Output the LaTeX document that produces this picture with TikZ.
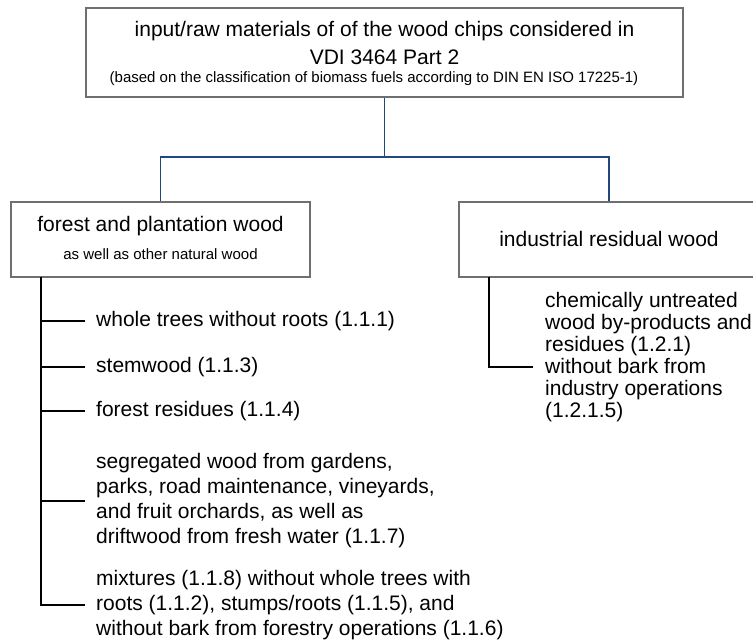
\documentclass[tikz,border=0pt]{standalone}
\usepackage{fontspec}
\setmainfont{Liberation Sans}
\definecolor{conblue}{HTML}{1F497D}
\definecolor{boxgray}{HTML}{6F6F6F}
\begin{document}
\begin{tikzpicture}[x=1pt,y=-1pt,
  box/.style={draw=boxgray, line width=1.3pt, fill=white, inner sep=0pt},
  big/.style={font=\fontsize{21}{25}\selectfont, inner sep=0pt},
  small/.style={font=\fontsize{15}{18}\selectfont, inner sep=0pt},
  item/.style={font=\fontsize{21}{25}\selectfont, align=left, anchor=west, inner xsep=11pt, inner ysep=0pt},
  ritem/.style={font=\fontsize{21}{22}\selectfont, align=left, anchor=west, inner sep=0pt},
  blueline/.style={draw=conblue, line width=1.3pt},
  branch/.style={draw=black, line width=1.2pt}]
\useasboundingbox (0,0) rectangle (753,644);
\clip (0,0) rectangle (753,644);
\fill[white] (0,0) rectangle (753,644);
% boxes
\node[box, minimum width=597pt, minimum height=89pt] (top) at (384.5,52.5) {};
\node[box, minimum width=299pt, minimum height=75pt] (lbox) at (160.5,239.5) {};
\node[box, minimum width=300pt, minimum height=75pt] (rbox) at (609,239.5) {};
% box texts
\node[big] (t1) at (384.5,31) {input/raw materials of of the wood chips considered in};
\node[big] (t2) at (384.5,57) {VDI 3464 Part 2};
\node[small] (t3) at (374,79) {(based on the classification of biomass fuels according to DIN EN ISO 17225-1)};
\node[big] (l1) at (160.5,226) {forest and plantation wood};
\node[small] (l2) at (160.5,254) {as well as other natural wood};
\node[big] (r1) at (609,239) {industrial residual wood};
% blue connectors
\coordinate (j) at (384.5,157);
\draw[blueline] (top.south) -- (j);
\draw[blueline] (lbox.north) |- (j) -| (rbox.north);
% left items
\node[item] (i1) at (85,321) {whole trees without roots (1.1.1)};
\node[item] (i2) at (85,367) {stemwood (1.1.3)};
\node[item] (i3) at (85,411) {forest residues (1.1.4)};
\node[item] (i4) at (85,501) {segregated wood from gardens,\\parks, road maintenance, vineyards,\\and fruit orchards, as well as\\driftwood from fresh water (1.1.7)};
\node[item] (i5) at (85,605) {mixtures (1.1.8) without whole trees with\\roots (1.1.2), stumps/roots (1.1.5), and\\without bark from forestry operations (1.1.6)};
\coordinate (ltop) at (41,277);
\draw[branch] (ltop) |- (i5.west);
\foreach \n in {i1,i2,i3,i4}{
  \draw[branch] (\n.west) -- (\n.west -| ltop);
}
% right item
\node[ritem] (ri) at (545,357) {chemically untreated\\wood by-products and\\residues (1.2.1)\\without bark from\\industry operations\\(1.2.1.5)};
\coordinate (rtop) at (489,277);
\coordinate (rend) at (533,367);
\draw[branch] (rtop) |- (rend);
\end{tikzpicture}
\end{document}
